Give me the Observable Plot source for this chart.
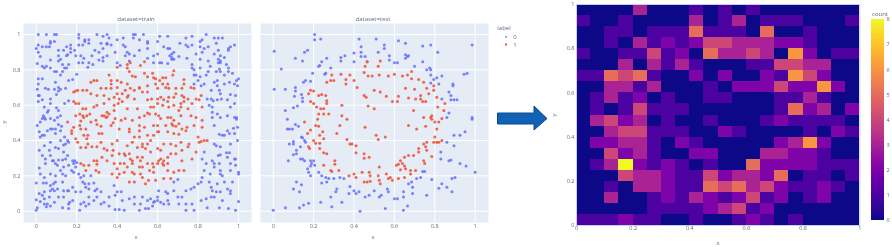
<!DOCTYPE html>
<html><head><meta charset="utf-8">
<script src="https://cdn.jsdelivr.net/npm/d3@7"></script>
<script src="https://cdn.jsdelivr.net/npm/@observablehq/plot@0.6"></script>
<style>
html,body{margin:0;padding:0;background:#fff}
#chart{position:relative;width:892px;height:247px;overflow:hidden;font-family:"Open Sans",sans-serif;color:#5d6b80;filter:blur(.6px)}
#chart>svg,#chart>div{position:absolute}
#chart svg{background:transparent;overflow:visible}
.t{font-size:6px;white-space:nowrap;transform:translate(-50%,-50%)}
</style></head><body><div id="chart"></div>
<script>
const ticks=[0,.2,.4,.6,.8,1];
const labelColors=["#636efa","#ef553b"];
const trainBlue=[[.01,1],[.05,1],[.09,1],[.1,1],[.21,1],[.3,1],[.33,.99],[.35,1],[.36,.98],[.48,1],[.49,1],[.53,1],[.51,.97],[.48,.98],[.61,.99],[.65,.99],[.77,.99],[.74,.98],[.84,1],[.82,.97],[.88,.98],[.9,.98],[.92,.98],[.21,.98],[.24,.97],[.26,.97],[.07,.96],[.09,.96],[.07,.95],[.01,.94],[0,.92],[.01,.9],[.03,.93],[.05,.93],[.17,.94],[.15,.93],[.21,.94],[.24,.96],[.23,.94],[.26,.95],[.32,.95],[.35,.95],[.37,.94],[.4,.97],[.43,.98],[.43,.94],[.44,.93],[.29,.91],[.31,.9],[.33,.92],[.33,.87],[.35,.945],[.45,.9],[.46,.89],[.55,.95],[.55,.96],[.55,.92],[.6,.96],[.63,.93],[.65,.92],[.66,.92],[.67,.89],[.68,.9],[.71,.95],[.74,.94],[.77,.94],[.75,.93],[.81,.96],[.81,.93],[.83,.92],[.85,.93],[.82,.9],[.89,.95],[.9,.91],[.91,.88],[.9,.86],[.91,.85],[.95,.92],[.96,.93],[.95,.91],[.93,.87],[.98,.94],[.11,.88],[.12,.86],[.11,.85],[.15,.88],[.155,.885],[.17,.9],[.17,.92],[.19,.91],[.13,.83],[.16,.83],[.15,.81],[.14,.81],[.13,.79],[.09,.79],[.1,.79],[.04,.81],[.03,.82],[.05,.82],[.07,.81],[.21,.84],[.23,.84],[.26,.84],[.28,.83],[.33,.85],[.35,.88],[.4,.84],[.44,.88],[.46,.85],[.58,.88],[.58,.84],[.61,.84],[.62,.84],[.67,.86],[.67,.87],[.66,.88],[.68,.86],[.77,.83],[.77,.81],[.78,.8],[.78,.77],[.79,.77],[.81,.86],[.81,.81],[.86,.82],[.85,.85],[.9,.84],[.91,.84],[.94,.83],[.95,.81],[.95,.79],[.97,.78],[.99,.74],[1,.75],[.91,.79],[.89,.79],[.85,.79],[.84,.77],[.81,.76],[.8,.74],[.78,.72],
[.01,.75],[.03,.75],[.01,.72],[.005,.69],[.01,.655],[.015,.655],[.01,.62],[.06,.69],[.09,.69],[.11,.7],[.12,.69],[.11,.68],[.07,.635],[.1,.66],[.145,.695],[.16,.74],[.18,.745],[.2,.775],[.16,.625],[.14,.61],[.1,.585],[.06,.57],[.055,.56],[.035,.54],[.04,.53],[.03,.525],[.045,.52],[.07,.525],[.005,.485],[.015,.45],[.04,.43],[.02,.42],[.03,.43],[.07,.465],[.08,.465],[.095,.465],[.11,.49],[.125,.48],[.12,.455],[.155,.4],[.14,.42],[.16,.39],
[.815,.71],[.83,.72],[.88,.73],[.895,.74],[.895,.71],[.93,.72],[.98,.72],[.995,.71],[.865,.685],[.905,.685],[.845,.635],[.865,.635],[.875,.625],[.895,.63],[.915,.635],[.96,.66],[.855,.6],[.87,.59],[.87,.53],[.87,.56],[.96,.59],[.98,.53],[.99,.53],[.99,.52],[.975,.47],[.995,.475],[.905,.435],[.92,.43],[.93,.43],[.945,.455],[.955,.44],
[.88,.38],[.89,.37],[.9,.315],[.91,.32],[.94,.33],[.955,.33],[.98,.295],[.985,.295],[.83,.335],[.82,.295],[.84,.27],[.87,.285],[.88,.27],[.88,.25],[.905,.27],[.91,.23],[.91,.21],[.96,.27],[1,.22],[1,.21],[.86,.21],[.83,.23],
[.015,.345],[.065,.345],[.07,.39],[.095,.36],[.11,.355],[.135,.375],[.145,.38],[.11,.29],[.13,.29],[.145,.295],[.08,.285],[.095,.27],[.045,.295],[.045,.27],[.015,.245],[.18,.285],[.19,.285],[.2,.275],[.185,.27],[.175,.23],[.185,.22],[.135,.25],[.12,.23],[.105,.26],[.07,.21],[.095,.2],[.13,.21],[.145,.2],
[0,.16],[.035,.16],[.05,.16],[.095,.165],[.085,.155],[.07,.145],[.13,.165],[.08,.125],[.105,.125],[.135,.115],[.16,.115],[.04,.11],[.07,.115],[.09,.115],[.065,.08],[.04,.07],[0,.065],[.02,.055],[.04,.04],[.055,.04],[.05,.025],[.07,.03],[.005,.02],[0,.005],[.09,.05],[.13,.02],[.16,.04],[.165,.05],[.18,.06],[.16,.015],[.155,.115],[.22,.19],[.235,.2],[.27,.2],[.23,.165],[.24,.155],[.26,.155],[.285,.16],[.245,.135],[.26,.125],[.3,.125],[.29,.115],[.32,.11],[.22,.04],[.245,.03],[.26,.04],[.235,.05],[.285,.06],[.32,.04],[.335,.05],[.385,.145],[.4,.11],[.42,.11],[.39,.09],[.46,.07],[.39,.01],[.41,.01],[.435,.005],[.215,.005],[.51,.005],[.54,.015],[.555,.015],[.515,.04],[.525,.08],[.565,.07],[.6,.08],[.605,.115],[.64,.11],[.65,.1],[.68,.115],[.6,.06],[.585,.055],[.58,.05],[.615,.05],[.575,.03],[.63,.04],[.655,.04],[.705,.04],[.74,.04],[.77,.04],[.74,.005],[.78,.005],[.7,.08],[.765,.125],[.78,.135],[.8,.155],[.815,.165],[.82,.19],[.855,.165],[.865,.135],[.87,.115],[.89,.11],[.865,.08],[.84,.07],[.91,.11],[.92,.06],[.945,.125],[.96,.115],[.95,.015],[.985,.005],[1,.055],[.96,.1],[.88,.08],[.895,.155],[.68,.165],[.7,.18],
[.065,.93],[.11,.91],[.135,.91],[.195,.88],[.22,.88],[.235,.865],[.255,.815],[.275,.88],[.31,.855],[.39,.9],[.415,.825],[.485,.88],[.51,.91],[.55,.865],[.6,.89],[.65,.835],[.705,.875],[.745,.865],[.79,.89],[.88,.89],[.905,.805],[.93,.77],[.955,.73],[.02,.875],[.005,.835],[.07,.855],[.12,.77],[.095,.73],[.045,.695],[.03,.63],[.04,.59],[.07,.61],[.11,.57],[.12,.54],[.09,.515],[.105,.53],[.02,.505],[.055,.455],[.095,.44],[.12,.4],[.04,.37],[.03,.315],[.07,.315],[.085,.285],[.135,.335],[.155,.315],[.16,.26],[.195,.25],[.21,.21],[.02,.21],[.04,.19],[.015,.1],[.03,.09],[.11,.08],[.135,.08],[.18,.135],[.195,.11],[.22,.11],[.26,.08],[.3,.08],[.36,.08],[.36,.03],[.425,.06],[.485,.08],[.485,.04],[.55,.06],[.65,.06],[.72,.08],[.74,.115],[.815,.06],[.845,.02],[.905,.02],[.93,.165],[.97,.165],[.92,.2],[.96,.23],[.985,.26],[.945,.305],[.91,.365],[.96,.38],[.995,.4],[.98,.44],[.91,.53],[.895,.55],[.945,.54],[.88,.485],[.98,.61],[.945,.63],[.985,.655],[.91,.665]];
const trainRed=[[.45,.83],[.465,.84],[.45,.81],[.46,.79],[.4,.815],[.535,.845],[.515,.825],[.49,.76],[.475,.765],[.535,.78],[.575,.78],[.58,.755],[.68,.795],[.675,.77],[.625,.755],[.64,.755],[.61,.74],[.73,.745],[.73,.72],[.3,.74],[.285,.74],[.27,.73],[.37,.74],[.36,.77],[.4,.74],[.42,.73],[.45,.72],[.51,.7],[.55,.71],[.59,.72],[.625,.72],[.65,.72],[.64,.7],[.6,.695],[.23,.685],[.205,.685],[.195,.68],[.185,.675],[.25,.685],[.27,.665],[.3,.655],[.345,.695],[.37,.695],[.4,.665],[.465,.695],[.455,.655],[.51,.695],[.525,.675],[.55,.675],[.765,.7],[.78,.695],[.815,.655],[.72,.655],[.73,.645],[.68,.645],[.655,.645],[.615,.645],[.6,.635],[.57,.635],[.55,.63],[.485,.635],[.45,.645],[.185,.62],[.195,.61],[.21,.61],[.23,.58],[.245,.58],[.285,.59],[.3,.6],[.335,.61],[.385,.6],[.405,.61],[.425,.62],[.35,.56],[.325,.54],[.345,.53],[.385,.57],[.36,.55],[.45,.58],[.5,.58],[.565,.59],[.58,.59],[.6,.61],[.625,.6],[.655,.59],[.68,.6],[.715,.61],[.73,.62],[.77,.61],[.82,.59],[.705,.57],[.715,.54],[.765,.54],[.79,.53],[.55,.555],[.56,.55],[.59,.55],[.605,.54],[.65,.53],[.665,.53],[.51,.53],[.215,.55],[.23,.54],[.195,.54],[.265,.55],[.25,.54],[.235,.53],[.155,.505],[.22,.51],[.215,.485],[.185,.475],[.175,.455],[.175,.44],[.22,.465],[.245,.465],[.235,.43],[.255,.43],[.25,.41],[.195,.41],[.205,.39],[.22,.36],[.245,.36],[.31,.44],[.325,.44],[.32,.39],[.37,.485],[.41,.465],[.46,.465],[.46,.45],[.51,.485],[.51,.455],[.535,.475],[.6,.485],[.6,.45],[.58,.43],[.605,.45],[.67,.495],[.675,.485],[.72,.465],[.745,.475],[.74,.455],[.78,.485],[.82,.515],[.82,.475],[.68,.515],[.65,.45],[.8,.42],[.805,.39],[.815,.395],[.83,.4],[.845,.4],[.565,.4],[.55,.38],[.525,.38],[.475,.39],[.45,.37],[.375,.38],[.4,.4],[.755,.38],[.75,.365],[.72,.345],[.69,.325],[.665,.325],[.65,.305],[.63,.285],[.625,.27],[.605,.285],[.63,.26],[.65,.23],[.68,.22],[.705,.23],[.73,.23],[.72,.285],[.77,.295],[.79,.335],[.575,.27],[.58,.22],[.525,.25],[.51,.25],[.475,.22],[.45,.25],[.475,.285],[.465,.295],[.44,.315],[.46,.325],[.41,.325],[.435,.325],[.38,.345],[.285,.285],[.3,.285],[.3,.265],[.26,.26],[.235,.26],[.22,.27],[.245,.23],[.295,.23],[.31,.22],[.375,.21],[.4,.19],[.46,.165],[.485,.165],[.515,.21],[.525,.19],[.54,.155],[.555,.175],[.59,.175],[.63,.185],[.665,.185],[.485,.21],[.525,.365],[.54,.355],[.415,.27],[.475,.27],
[.27,.505],[.295,.515],[.335,.54],[.35,.535],[.32,.48],[.3,.49],[.39,.525],[.38,.5],[.42,.515],[.44,.525],[.475,.515],[.535,.54],[.58,.485],[.64,.485],[.615,.525],[.69,.48],[.705,.495],[.68,.44],[.705,.435],[.255,.38],[.275,.365],[.3,.365],[.335,.355],[.35,.345],[.375,.315],[.325,.305],[.35,.285],[.385,.27],[.4,.24],[.435,.27],[.435,.22],[.41,.21],[.5,.305],[.525,.305],[.565,.335],[.6,.355],[.615,.345],[.63,.38],[.665,.38],[.69,.37],[.715,.39],[.485,.42],[.51,.42],[.55,.43],[.5,.36],[.6,.27],[.615,.295],[.65,.27],[.56,.23],[.58,.25],[.55,.27],[.515,.285],[.37,.72],[.4,.7],[.32,.695],[.335,.655],[.36,.635],[.385,.645],[.41,.635],[.425,.665],[.44,.685],[.485,.685],[.55,.76],[.59,.75],[.655,.695],[.69,.695],[.69,.665],[.72,.695],[.75,.635],[.79,.635],[.805,.63],[.63,.63],[.65,.62],[.715,.59],[.75,.58]];
const testBlue=[[.205,1],[.205,.97],[.235,.975],[.005,.905],[.155,.9],[.17,.91],[.11,.865],[.145,.85],[.04,.805],[.005,.69],[.06,.69],[.425,.975],[.435,.93],[.51,.975],[.55,.94],[.55,.92],[.52,.9],[.435,.9],[.4,.895],[.355,.88],[.335,.87],[.335,.85],[.4,.845],[.435,.875],[.455,.875],[.465,.845],[.575,.88],[.575,.855],[.6,.84],[.615,.84],[.62,.965],[.655,.95],[.655,.885],[.665,.875],[.67,.88],[.655,.865],[.7,.82],[.74,.935],[.78,.94],[.815,.9],[.74,.845],[.775,.81],[.78,.8],[.76,.8],[.78,.77],[.81,.755],[.795,.745],[.78,.725],[.835,.765],[.945,.775],[.96,.78],[.985,.94],[.24,.845],[.23,.825],[.225,.82],[.265,.865],[.285,.81],[.26,.78],[.255,.775],[.195,.78],[.185,.735],[.16,.74],[.15,.73],[.11,.7],[.11,.68],[.105,.65],[.14,.66],[.145,.64],[.145,.62],[.06,.57],[.1,.585],[.12,.595],[.07,.52],[.07,.465],[.08,.465],[.095,.465],[.11,.49],[.125,.48],[.08,.38],[.1,.38],[.1,.395],[.14,.42],[.145,.415],[.155,.4],[.16,.39],[.115,.345],[.1,.32],[.115,.325],[.075,.285],[.135,.365],[.135,.295],[.145,.295],[.155,.285],[.185,.285],[.2,.285],[.19,.27],[.185,.255],[.17,.24],[.175,.22],[.185,.2],[.205,.26],[.225,.22],[.24,.2],[.26,.19],[.275,.185],[.265,.165],[.24,.16],[.3,.185],[.33,.19],[.35,.185],[.38,.14],[.315,.125],[.31,.11],[.285,.08],[.34,.05],[.29,.025],[.235,.05],[.175,.045],[.15,.035],[.13,.02],[.06,.02],[0,.005],[.1,.125],[.13,.11],[.115,.165],[.14,.15],[.4,.115],[.425,.11],[.41,.1],[.455,.08],[.475,.09],[.5,.115],[.525,.08],[.535,.09],[.565,.125],[.57,.11],[.6,.07],[.615,.07],[.645,.11],[.645,.08],[.69,.1],[.69,.135],[.71,.185],[.73,.19],[.75,.225],[.74,.225],[.685,.165],[.67,.155],[.785,.18],[.835,.155],[.82,.13],[.86,.135],[.885,.185],[.9,.19],[.885,.11],[.925,.27],[.955,.255],[1,.22],[.76,.09],[.665,.03],[.645,.005],[.555,.015],[.43,0],[.375,.1],[.87,.675],[.89,.72],[.89,.71],[.88,.655],[.88,.63],[.895,.63],[.91,.63],[.835,.635],[.82,.72],[.87,.555],[.86,.53],[.985,.53],[.985,.52],[.95,.45],[.925,.43],[.895,.43],[.86,.39],[.895,.37],[.88,.29],[.83,.295],[.83,.335],[.87,.285]];
const testRed=[[.465,.845],[.53,.85],[.52,.82],[.455,.82],[.45,.785],[.47,.765],[.49,.765],[.525,.77],[.57,.765],[.6,.775],[.64,.765],[.665,.77],[.685,.79],[.685,.75],[.72,.745],[.745,.73],[.76,.695],[.795,.71],[.795,.685],[.7,.69],[.655,.695],[.5,.685],[.53,.675],[.56,.65],[.59,.62],[.62,.65],[.615,.62],[.67,.64],[.705,.635],[.73,.655],[.73,.635],[.755,.62],[.74,.62],[.77,.665],[.81,.645],[.815,.59],[.85,.61],[.845,.57],[.695,.57],[.5,.58],[.47,.595],[.45,.655],[.46,.645],[.34,.6],[.34,.54],[.365,.52],[.33,.485],[.315,.44],[.455,.475],[.51,.43],[.52,.405],[.555,.42],[.365,.405],[.39,.38],[.38,.38],[.41,.37],[.41,.33],[.45,.325],[.475,.305],[.45,.3],[.29,.77],[.265,.73],[.285,.74],[.3,.74],[.335,.775],[.38,.77],[.36,.745],[.4,.74],[.36,.72],[.415,.7],[.2,.68],[.185,.685],[.175,.665],[.225,.655],[.24,.66],[.26,.655],[.265,.625],[.265,.61],[.185,.62],[.2,.61],[.215,.59],[.235,.58],[.25,.58],[.225,.55],[.25,.55],[.275,.55],[.22,.52],[.21,.485],[.245,.45],[.225,.48],[.185,.46],[.17,.44],[.155,.505],[.23,.43],[.25,.41],[.2,.4],[.175,.365],[.21,.385],[.23,.385],[.23,.355],[.25,.33],[.265,.325],[.18,.355],[.25,.26],[.29,.225],[.285,.23],[.305,.285],[.305,.265],[.325,.23],[.375,.2],[.4,.21],[.41,.19],[.44,.22],[.475,.22],[.48,.2],[.465,.165],[.45,.165],[.48,.17],[.525,.25],[.52,.2],[.525,.175],[.53,.155],[.56,.21],[.58,.19],[.59,.175],[.57,.185],[.61,.26],[.62,.265],[.63,.285],[.64,.27],[.65,.255],[.655,.24],[.63,.235],[.62,.185],[.65,.19],[.68,.23],[.68,.21],[.705,.23],[.745,.285],[.75,.27],[.72,.335],[.745,.38],[.72,.355],[.695,.315],[.67,.315],[.65,.305],[.785,.31],[.8,.42],[.795,.39],[.81,.39],[.82,.39],[.835,.4],[.76,.39],[.755,.365],[.76,.345],[.71,.465],[.755,.48],[.81,.465],[.67,.485],[.78,.53],[.745,.53],[.785,.52],[.82,.505],[.835,.525],[.785,.54],[.8,.505]];
// histogram counts, top row (y 0.95-1) first, 20 x bins
const counts=[
[0,0,0,0,3,0,0,0,1,0,1,0,1,0,0,0,0,0,0,0],
[1,0,0,1,0,0,0,0,3,0,1,3,0,1,1,1,0,0,0,1],
[0,0,1,1,0,1,1,1,5,1,1,1,0,5,0,0,1,0,0,0],
[0,0,1,0,3,1,2,1,2,4,4,3,3,3,2,2,1,0,0,0],
[1,0,0,1,1,4,1,2,0,5,3,3,4,3,0,6,2,0,1,1],
[0,0,0,3,0,3,1,3,1,0,0,0,1,1,4,4,3,3,0,0],
[1,1,5,4,5,1,0,0,2,0,2,0,0,2,1,6,4,2,0,0],
[0,0,3,3,1,3,0,0,0,1,0,2,2,2,4,2,2,6,2,0],
[0,1,3,1,2,0,1,0,0,1,1,0,0,0,1,1,3,1,0,0],
[0,1,0,1,4,1,1,1,0,0,0,0,0,0,1,5,2,3,0,2],
[0,3,4,2,3,0,1,0,0,1,0,0,0,1,2,1,1,1,1,0],
[0,0,3,4,4,1,1,1,0,0,2,1,0,0,0,0,1,0,2,1],
[0,2,2,3,3,1,0,2,1,0,0,0,0,0,2,3,6,2,0,0],
[0,0,4,2,3,1,0,0,2,2,0,0,0,3,3,2,2,1,0,0],
[0,1,3,8,2,1,2,1,0,1,0,0,5,2,2,2,2,1,1,1],
[0,0,0,4,3,3,2,1,1,4,2,3,3,2,5,0,1,1,0,1],
[0,0,1,0,3,3,2,1,1,5,4,5,3,4,2,1,1,2,1,0],
[0,0,3,0,0,1,2,1,3,2,1,2,4,1,2,0,1,2,0,0],
[0,0,0,0,0,1,1,1,1,2,3,4,1,2,0,0,0,0,0,0],
[1,1,1,2,1,1,0,0,1,0,0,1,2,1,0,1,0,0,0,0]];
const countTicks=[0,1,2,3,4,5,6,7,8];
const binWidth=0.05;
const titles=["dataset=train","dataset=test"];

const chart=document.getElementById("chart");
const tick=d=>String(d);
const textFill="#5d6b80";
const place=(svg,left,top)=>{svg.style.left=left+"px";svg.style.top=top+"px";chart.append(svg);};
const label=(txt,x,y,rot)=>{const d=document.createElement("div");d.className="t";d.textContent=txt;d.style.left=x+"px";d.style.top=y+"px";if(rot)d.style.transform="translate(-50%,-50%) rotate(-90deg)";chart.append(d);return d;};

function scatter(blue,red,opts){
  const marks=[
    Plot.frame({fill:"#e5ecf6",stroke:null}),
    Plot.ruleX(ticks,{stroke:"#fff",strokeWidth:1}),
    Plot.ruleY(ticks,{stroke:"#fff",strokeWidth:1}),
    Plot.axisX(ticks,{tickSize:0,tickPadding:2,tickFormat:tick,label:null,fontSize:5.5,fill:textFill}),
    Plot.dot(blue,{x:d=>d[0],y:d=>d[1],r:1.5,fill:labelColors[0],fillOpacity:.85}),
    Plot.dot(red,{x:d=>d[0],y:d=>d[1],r:1.5,fill:labelColors[1],fillOpacity:.9})
  ];
  if(opts.yAxis)marks.splice(3,0,Plot.axisY(ticks,{tickSize:0,tickPadding:3,tickFormat:tick,label:null,fontSize:5.5,fill:textFill}));
  return Plot.plot({
    width:opts.width,height:247,
    marginLeft:opts.ml,marginRight:opts.mr,marginTop:23,marginBottom:25,
    x:{domain:opts.xd},y:{domain:[-.064,1.062],axis:opts.yAxis?undefined:null},
    style:{fontFamily:"Open Sans",background:"transparent"},
    marks
  });
}
place(scatter(trainBlue,trainRed,{width:255,ml:23,mr:4,xd:[-.063,1.064],yAxis:true}),0,0);
place(scatter(testBlue,testRed,{width:240,ml:5,mr:7,xd:[-.063,1.066],yAxis:false}),255,0);

// heatmap
const cells=counts.flatMap((row,r)=>row.map((c,i)=>({x1:i*binWidth,x2:(i+1)*binWidth,y2:1-r*binWidth,y1:1-(r+1)*binWidth,c})));
place(Plot.plot({
  width:310,height:247,marginLeft:26,marginRight:.7,marginTop:4,marginBottom:22,
  x:{domain:[0,1]},y:{domain:[0,1]},
  color:{type:"linear",scheme:"plasma",domain:[0,8]},
  style:{fontFamily:"Open Sans",background:"transparent"},
  marks:[
    Plot.rect(cells,{x1:"x1",x2:"x2",y1:"y1",y2:"y2",fill:"c",shapeRendering:"crispEdges"}),
    Plot.frame({stroke:"#c4d0ee",strokeWidth:1}),
    Plot.axisX(ticks,{tickSize:0,tickPadding:1,tickFormat:tick,label:null,fontSize:5.5,fill:textFill}),
    Plot.axisY(ticks,{tickSize:0,tickPadding:2,tickFormat:tick,label:null,fontSize:5.5,fill:textFill})
  ]
}),550,0);

// colour bar
const ramp=d3.range(0,8,.05);
place(Plot.plot({
  width:21,height:247,marginLeft:0,marginRight:8,marginTop:19,marginBottom:27,
  x:{domain:[0,1],axis:null},y:{domain:[0,8]},
  color:{type:"linear",scheme:"plasma",domain:[0,8]},
  style:{fontFamily:"Open Sans",background:"transparent"},
  marks:[
    Plot.rect(ramp,{x1:0,x2:1,y1:d=>d,y2:d=>d+.06,fill:d=>d,shapeRendering:"crispEdges"}),
    Plot.axisY(countTicks,{anchor:"right",tickSize:0,tickPadding:2,label:null,fontSize:5.5,fill:textFill})
  ]
}),871,0);

// text labels
label(titles[0],136,19);label(titles[1],373,19);
label("x",136,237);label("x",373,237);label("y",4,122,true);
label("x",718,243);label("y",554,115,true);
label("count",880,14);
// legend
label("label",504,28);
labelColors.forEach((c,i)=>{
  label(String(i),515,37+i*7.5);
  const s=document.createElement("div");
  s.style.cssText=`left:504.5px;top:${35.7+i*7.5}px;width:2.7px;height:2.7px;border-radius:50%;background:${c};opacity:.85`;
  chart.append(s);
});
// arrow
chart.insertAdjacentHTML("beforeend",`<svg style="left:0;top:0" width="892" height="247"><polygon points="497.5,113 534,113 534,106 547,118.5 534,130 534,124 497.5,124" fill="#0f62b5" stroke="#0b4a8f" stroke-width="1"/></svg>`);
</script></body></html>
